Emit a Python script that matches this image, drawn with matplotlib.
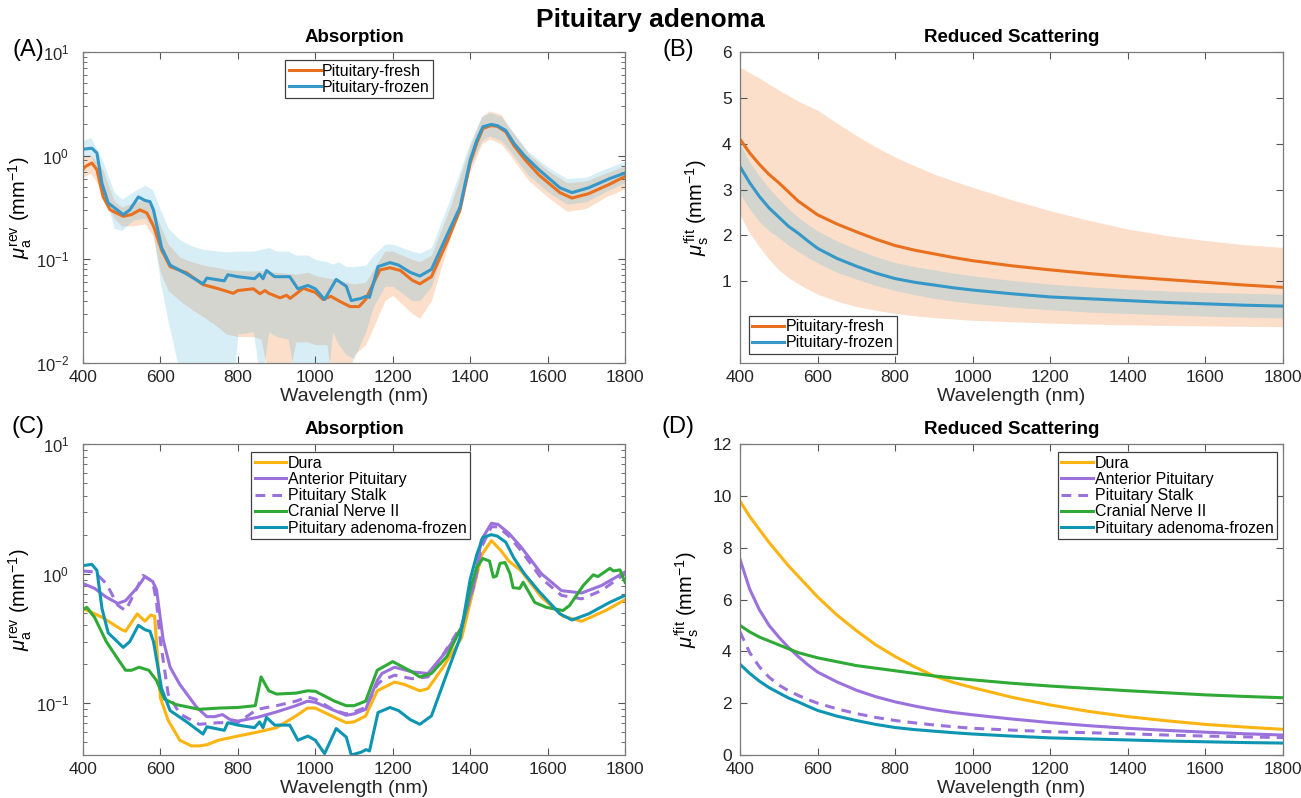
import matplotlib
matplotlib.use("Agg")
import matplotlib.pyplot as plt
import numpy as np

plt.rcParams['font.family'] = ['Liberation Sans', 'DejaVu Sans']
plt.rcParams['mathtext.fontset'] = 'custom'
plt.rcParams['mathtext.rm'] = 'Liberation Sans'
plt.rcParams['mathtext.it'] = 'Liberation Sans:italic'
plt.rcParams['mathtext.bf'] = 'Liberation Sans:bold'
plt.rcParams['axes.unicode_minus'] = False

# ---------------- Panel A data (absorption, log scale) ----------------
wl_fresh = [400, 405, 423, 436, 452, 470, 504, 525, 547, 565, 582, 603, 625, 668, 710, 750, 788, 800, 840,
            857, 870, 880, 909, 926, 935, 969, 1000, 1020, 1040, 1065, 1090, 1113, 1130, 1167, 1193, 1220,
            1250, 1270, 1300, 1343, 1374, 1400, 1417, 1433, 1454, 1470, 1492, 1513, 1540, 1578, 1632, 1663,
            1706, 1760, 1800]
mua_fresh = [0.74, 0.78, 0.85, 0.73, 0.40, 0.30, 0.26, 0.27, 0.30, 0.28, 0.21, 0.123, 0.085, 0.074, 0.057,
             0.052, 0.047, 0.05, 0.052, 0.0466, 0.05, 0.047, 0.0425, 0.045, 0.042, 0.0525, 0.048, 0.041,
             0.044, 0.039, 0.035, 0.035, 0.041, 0.079, 0.083, 0.078, 0.063, 0.058, 0.068, 0.155, 0.30,
             0.85, 1.32, 1.83, 1.95, 1.92, 1.7, 1.25, 0.93, 0.65, 0.44, 0.39, 0.43, 0.53, 0.63]

wl_frozen = [400, 405, 423, 436, 449, 465, 504, 521, 543, 560, 573, 582, 603, 625, 668, 710, 720, 765, 774,
             800, 843, 856, 865, 874, 895, 934, 955, 981, 1000, 1024, 1054, 1080, 1093, 1118, 1131, 1140,
             1162, 1193, 1215, 1245, 1270, 1300, 1343, 1374, 1400, 1417, 1433, 1454, 1470, 1492, 1513,
             1540, 1578, 1632, 1663, 1706, 1760, 1800]
mua_frozen = [1.15, 1.16, 1.18, 1.06, 0.54, 0.35, 0.27, 0.30, 0.40, 0.37, 0.36, 0.30, 0.13, 0.088, 0.072,
              0.058, 0.066, 0.062, 0.071, 0.068, 0.065, 0.072, 0.065, 0.078, 0.068, 0.068, 0.052, 0.056,
              0.052, 0.041, 0.064, 0.055, 0.040, 0.042, 0.044, 0.043, 0.085, 0.093, 0.088, 0.075, 0.069,
              0.08, 0.18, 0.32, 0.9, 1.4, 1.9, 2.0, 1.95, 1.75, 1.32, 1.0, 0.73, 0.49, 0.44, 0.49, 0.6, 0.68]

wl_band = [400, 420, 450, 480, 500, 530, 560, 580, 600, 620, 650, 680, 710, 750, 770, 800, 840, 860, 880,
           900, 930, 950, 980, 1000, 1030, 1045, 1060, 1080, 1100, 1130, 1150, 1180, 1200, 1250, 1270, 1300,
           1350, 1400, 1430, 1450, 1480, 1500, 1550, 1600, 1650, 1700, 1750, 1800]
fresh_lo = [0.62, 0.68, 0.45, 0.25, 0.21, 0.21, 0.22, 0.17, 0.075, 0.05, 0.04, 0.033, 0.028, 0.022, 0.019,
            0.018, 0.018, 0.017, 0.007, 0.007, 0.007, 0.016, 0.016, 0.015, 0.015, 0.006, 0.006, 0.006, 0.012,
            0.015, 0.022, 0.04, 0.045, 0.03, 0.027, 0.04, 0.17, 0.7, 1.3, 1.45, 1.3, 1.05, 0.58, 0.40, 0.29,
            0.31, 0.40, 0.48]
fresh_hi = [0.95, 1.02, 0.75, 0.37, 0.32, 0.35, 0.38, 0.32, 0.21, 0.14, 0.105, 0.095, 0.088, 0.083, 0.08,
            0.078, 0.077, 0.078, 0.076, 0.075, 0.073, 0.072, 0.075, 0.07, 0.066, 0.065, 0.064, 0.06, 0.058,
            0.06, 0.08, 0.12, 0.12, 0.10, 0.095, 0.11, 0.33, 1.25, 2.4, 2.7, 2.5, 1.9, 1.05, 0.72, 0.55,
            0.57, 0.68, 0.8]
frozen_lo = [0.95, 1.0, 0.55, 0.20, 0.19, 0.24, 0.25, 0.2, 0.06, 0.025, 0.008, 0.002, 0.001, 0.001, 0.001,
             0.019, 0.02, 0.006, 0.02, 0.018, 0.017, 0.006, 0.006, 0.006, 0.006, 0.02, 0.015, 0.012, 0.011,
             0.02, 0.035, 0.055, 0.055, 0.04, 0.04, 0.055, 0.2, 0.78, 1.4, 1.55, 1.4, 1.15, 0.65, 0.45, 0.34,
             0.36, 0.45, 0.55]
frozen_hi = [1.4, 1.5, 0.9, 0.45, 0.38, 0.45, 0.52, 0.47, 0.3, 0.2, 0.155, 0.135, 0.125, 0.12, 0.118, 0.12,
             0.12, 0.125, 0.13, 0.12, 0.12, 0.11, 0.11, 0.10, 0.095, 0.09, 0.095, 0.085, 0.085, 0.088, 0.11,
             0.14, 0.14, 0.12, 0.115, 0.13, 0.4, 1.35, 2.4, 2.6, 2.4, 1.9, 1.1, 0.78, 0.6, 0.62, 0.75, 0.88]

# ---------------- Panel B data (reduced scattering) ----------------
wl_scat = [400, 425, 450, 475, 500, 525, 550, 575, 600, 650, 700, 750, 800, 850, 900, 950, 1000,
           1100, 1200, 1300, 1400, 1500, 1600, 1700, 1800]
mus_fresh = [4.1, 3.8, 3.55, 3.33, 3.15, 2.95, 2.75, 2.6, 2.45, 2.25, 2.08, 1.92, 1.78, 1.68, 1.6, 1.52,
             1.45, 1.34, 1.25, 1.17, 1.1, 1.04, 0.98, 0.92, 0.87]
mus_fresh_hi = [5.67, 5.55, 5.43, 5.3, 5.17, 5.05, 4.93, 4.83, 4.73, 4.45, 4.18, 3.93, 3.71, 3.52, 3.34,
                3.19, 3.05, 2.78, 2.54, 2.33, 2.14, 2.0, 1.89, 1.8, 1.74]
mus_fresh_lo = [2.45, 2.05, 1.75, 1.48, 1.25, 1.08, 0.95, 0.83, 0.72, 0.57, 0.45, 0.37, 0.3, 0.25, 0.21,
                0.18, 0.15, 0.12, 0.09, 0.07, 0.05, 0.04, 0.03, 0.02, 0.01]
mus_frozen = [3.5, 3.15, 2.85, 2.6, 2.4, 2.2, 2.05, 1.88, 1.72, 1.5, 1.33, 1.18, 1.06, 0.98, 0.92, 0.86,
              0.81, 0.73, 0.66, 0.62, 0.58, 0.54, 0.51, 0.48, 0.46]
mus_frozen_hi = [4.0, 3.6, 3.3, 3.03, 2.8, 2.58, 2.4, 2.24, 2.1, 1.88, 1.7, 1.54, 1.41, 1.32, 1.25, 1.18,
                 1.12, 1.02, 0.94, 0.88, 0.83, 0.79, 0.76, 0.74, 0.72]
mus_frozen_lo = [2.9, 2.58, 2.3, 2.1, 1.95, 1.79, 1.65, 1.52, 1.4, 1.2, 1.05, 0.91, 0.8, 0.71, 0.63, 0.57,
                 0.52, 0.44, 0.38, 0.33, 0.3, 0.27, 0.24, 0.22, 0.2]

# ---------------- Panel C data (absorption by tissue) ----------------
wl_dura = [400, 450, 500, 510, 540, 560, 575, 585, 600, 620, 650, 680, 700, 720, 750, 800, 850, 900, 950,
           980, 1000, 1050, 1080, 1100, 1130, 1160, 1205, 1230, 1270, 1291, 1330, 1378, 1412, 1430, 1455,
           1480, 1500, 1532, 1584, 1640, 1688, 1750, 1800]
mua_dura = [0.54, 0.46, 0.37, 0.36, 0.49, 0.43, 0.48, 0.47, 0.11, 0.074, 0.052, 0.047, 0.047, 0.048, 0.052,
            0.056, 0.06, 0.065, 0.08, 0.092, 0.092, 0.078, 0.071, 0.072, 0.08, 0.125, 0.146, 0.14, 0.125,
            0.13, 0.19, 0.32, 0.84, 1.4, 1.8, 1.5, 1.25, 1.05, 0.66, 0.47, 0.43, 0.52, 0.63]

wl_ant = [400, 430, 460, 490, 510, 540, 560, 580, 590, 607, 625, 650, 694, 720, 740, 760, 780, 800, 850,
          900, 950, 980, 1000, 1050, 1080, 1100, 1130, 1160, 1172, 1205, 1250, 1291, 1335, 1378, 1412, 1429,
          1455, 1472, 1500, 1532, 1584, 1636, 1688, 1739, 1800]
mua_ant = [0.84, 0.77, 0.66, 0.59, 0.62, 0.78, 0.95, 0.87, 0.75, 0.31, 0.19, 0.14, 0.093, 0.079, 0.079,
           0.082, 0.075, 0.073, 0.078, 0.086, 0.096, 0.104, 0.102, 0.088, 0.081, 0.083, 0.09, 0.15, 0.17,
           0.19, 0.175, 0.17, 0.245, 0.385, 0.89, 1.82, 2.45, 2.4, 2.05, 1.6, 1.0, 0.74, 0.71, 0.81, 1.03]

wl_stalk = [400, 430, 460, 490, 510, 540, 555, 580, 590, 600, 620, 650, 700, 750, 800, 850, 900, 950, 980,
            1000, 1050, 1080, 1100, 1130, 1160, 1172, 1205, 1250, 1291, 1335, 1378, 1412, 1429, 1455, 1472,
            1500, 1532, 1584, 1636, 1688, 1739, 1800]
mua_stalk = [1.05, 1.03, 0.84, 0.57, 0.52, 0.78, 0.97, 0.87, 0.6, 0.30, 0.118, 0.083, 0.069, 0.071, 0.071,
             0.09, 0.096, 0.104, 0.112, 0.108, 0.088, 0.083, 0.086, 0.093, 0.14, 0.15, 0.165, 0.155, 0.16,
             0.25, 0.40, 0.85, 1.6, 2.3, 2.3, 1.95, 1.5, 0.92, 0.68, 0.64, 0.74, 1.0]

wl_cn = [400, 410, 430, 460, 490, 510, 525, 545, 570, 590, 610, 640, 700, 750, 800, 845, 860, 880, 900, 950,
         980, 1000, 1050, 1080, 1100, 1130, 1160, 1200, 1250, 1270, 1300, 1340, 1380, 1400, 1417, 1433, 1450,
         1460, 1468, 1477, 1490, 1503, 1511, 1528, 1537, 1567, 1597, 1640, 1657, 1692, 1718, 1730, 1761,
         1770, 1787, 1800]
mua_cn = [0.53, 0.55, 0.46, 0.30, 0.22, 0.18, 0.18, 0.19, 0.18, 0.15, 0.108, 0.098, 0.09, 0.092, 0.093,
          0.096, 0.16, 0.125, 0.118, 0.12, 0.125, 0.124, 0.104, 0.096, 0.096, 0.104, 0.18, 0.21, 0.175, 0.16,
          0.17, 0.23, 0.40, 0.75, 1.12, 1.31, 1.25, 0.94, 0.96, 1.2, 1.22, 1.0, 0.78, 0.77, 0.86, 0.6, 0.55,
          0.52, 0.57, 0.81, 0.98, 0.95, 1.1, 1.05, 1.07, 0.86]

# ---------------- Panel D data (scattering by tissue) ----------------
mus_dura = [9.8, 9.2, 8.7, 8.2, 7.75, 7.3, 6.9, 6.5, 6.1, 5.4, 4.8, 4.25, 3.8, 3.4, 3.05, 2.8, 2.6,
            2.23, 1.93, 1.68, 1.48, 1.32, 1.18, 1.08, 0.99]
mus_ant = [7.55, 6.4, 5.6, 5.0, 4.55, 4.15, 3.8, 3.48, 3.2, 2.82, 2.5, 2.25, 2.05, 1.89, 1.75, 1.64, 1.55,
           1.39, 1.25, 1.13, 1.03, 0.95, 0.88, 0.82, 0.77]
mus_stalk = [4.75, 3.95, 3.4, 3.0, 2.7, 2.48, 2.3, 2.14, 2.0, 1.78, 1.6, 1.45, 1.33, 1.24, 1.16, 1.09, 1.03,
             0.96, 0.9, 0.86, 0.82, 0.77, 0.73, 0.7, 0.67]
mus_cn = [5.0, 4.75, 4.55, 4.4, 4.25, 4.1, 3.95, 3.85, 3.75, 3.6, 3.45, 3.35, 3.25, 3.15, 3.05, 2.97, 2.9,
          2.77, 2.66, 2.57, 2.48, 2.4, 2.32, 2.26, 2.21]

labels_ab = ['Pituitary-fresh', 'Pituitary-frozen']
labels_cd = ['Dura', 'Anterior Pituitary', 'Pituitary Stalk', 'Cranial Nerve II', 'Pituitary adenoma-frozen']

# ---------------- styling ----------------
c_fresh = '#E8701E'
c_frozen = '#3598C8'
c_fresh_fill = '#F08030'
c_frozen_fill = '#4CB3D9'
c_dura = '#FBB412'
c_purple = '#9B72DC'
c_green = '#30AA36'
c_teal = '#0E95B2'
LW = 2.2
DASH = (0, (3.2, 2.3))

fig = plt.figure(figsize=(13.01, 7.98), dpi=100)
W, H = 1301, 798


def add_ax(x0, x1, y0, y1):
    return fig.add_axes([x0 / W, 1 - y1 / H, (x1 - x0) / W, (y1 - y0) / H])


axA = add_ax(83, 625, 52, 363)
axB = add_ax(740, 1283, 52, 363)
axC = add_ax(83, 625, 444, 755)
axD = add_ax(740, 1283, 444, 755)

for ax in (axA, axB, axC, axD):
    ax.set_xlim(400, 1800)
    ax.set_xticks(range(400, 1801, 200))
    ax.tick_params(direction='in', top=True, right=True, labelsize=12.5, length=5, width=0.8,
                   color='#555555', labelcolor='#262626')
    ax.tick_params(which='minor', direction='in', top=True, right=True, length=3, width=0.6,
                   color='#555555')
    ax.tick_params(axis='x', pad=5)
    for s in ax.spines.values():
        s.set_color('#7a7a7a')
        s.set_linewidth(0.9)
    ax.set_xlabel('Wavelength (nm)', fontsize=14, color='#262626', labelpad=2)

leg_kw = dict(fontsize=11.5, frameon=True, fancybox=False, framealpha=1, edgecolor='#404040',
              handlelength=2.0, handletextpad=0.1, labelspacing=0.08, borderpad=0.22, borderaxespad=0)

# Panel A
axA.set_yscale('log')
axA.fill_between(wl_band, fresh_lo, fresh_hi, color=c_fresh_fill, alpha=0.25, lw=0)
axA.plot(wl_fresh, mua_fresh, color=c_fresh, lw=LW, label=labels_ab[0])
axA.fill_between(wl_band, frozen_lo, frozen_hi, color=c_frozen_fill, alpha=0.22, lw=0)
axA.plot(wl_frozen, mua_frozen, color=c_frozen, lw=LW, label=labels_ab[1])
axA.set_ylim(1e-2, 1e1)
axA.tick_params(axis='y', pad=10, labelsize=12)
axA.set_title('Absorption', fontsize=13.5, fontweight='bold', pad=7)
axA.set_ylabel(r'$\mu_\mathrm{a}^\mathrm{rev}$ (mm$^{-1}$)', fontsize=14.5, labelpad=1)
la = axA.legend(loc='upper left', bbox_to_anchor=(0.373, 0.974), **leg_kw)
la.get_frame().set_linewidth(0.9)

# Panel B
axB.fill_between(wl_scat, mus_fresh_lo, mus_fresh_hi, color=c_fresh_fill, alpha=0.25, lw=0)
axB.plot(wl_scat, mus_fresh, color=c_fresh, lw=LW, label=labels_ab[0])
axB.fill_between(wl_scat, mus_frozen_lo, mus_frozen_hi, color=c_frozen_fill, alpha=0.22, lw=0)
axB.plot(wl_scat, mus_frozen, color=c_frozen, lw=LW, label=labels_ab[1])
axB.set_ylim(-0.78, 6)
axB.set_yticks([1, 2, 3, 4, 5, 6])
axB.tick_params(axis='y', pad=6)
axB.set_title('Reduced Scattering', fontsize=13.5, fontweight='bold', pad=7)
axB.set_ylabel(r"$\mu_\mathrm{s}^{\prime\mathrm{fit}}$ (mm$^{-1}$)", fontsize=14.5, labelpad=8)
lb = axB.legend(loc='lower left', bbox_to_anchor=(0.016, 0.029), **leg_kw)
lb.get_frame().set_linewidth(0.9)

# Panel C
axC.set_yscale('log')
axC.plot(wl_dura, mua_dura, color=c_dura, lw=LW, label=labels_cd[0])
axC.plot(wl_ant, mua_ant, color=c_purple, lw=LW, label=labels_cd[1])
axC.plot(wl_stalk, mua_stalk, color=c_purple, lw=LW, ls=DASH, label=labels_cd[2])
axC.plot(wl_cn, mua_cn, color=c_green, lw=LW, label=labels_cd[3])
axC.plot(wl_frozen, mua_frozen, color=c_teal, lw=LW, label=labels_cd[4])
axC.set_ylim(0.04, 10)
axC.tick_params(axis='y', pad=10, labelsize=12)
axC.set_title('Absorption', fontsize=13.5, fontweight='bold', pad=7)
axC.set_ylabel(r'$\mu_\mathrm{a}^\mathrm{rev}$ (mm$^{-1}$)', fontsize=14.5, labelpad=1)
lc = axC.legend(loc='upper left', bbox_to_anchor=(0.31, 0.974), **leg_kw)
lc.get_frame().set_linewidth(0.9)

# Panel D
axD.plot(wl_scat, mus_dura, color=c_dura, lw=LW, label=labels_cd[0])
axD.plot(wl_scat, mus_ant, color=c_purple, lw=LW, label=labels_cd[1])
axD.plot(wl_scat, mus_stalk, color=c_purple, lw=LW, ls=DASH, label=labels_cd[2])
axD.plot(wl_scat, mus_cn, color=c_green, lw=LW, label=labels_cd[3])
axD.plot(wl_scat, mus_frozen, color=c_teal, lw=LW, label=labels_cd[4])
axD.set_ylim(0, 12)
axD.set_yticks(range(0, 13, 2))
axD.tick_params(axis='y', pad=6)
axD.set_title('Reduced Scattering', fontsize=13.5, fontweight='bold', pad=7)
axD.set_ylabel(r"$\mu_\mathrm{s}^{\prime\mathrm{fit}}$ (mm$^{-1}$)", fontsize=14.5, labelpad=8)
ld = axD.legend(loc='upper right', bbox_to_anchor=(0.989, 0.974), **leg_kw)
ld.get_frame().set_linewidth(0.9)

fig.text(0.5, 1 - 20 / H, 'Pituitary adenoma', ha='center', va='center', fontsize=19, fontweight='bold')
for lab, (px, py) in zip(['(A)', '(B)', '(C)', '(D)'], [(28, 50), (678, 50), (28, 427), (678, 427)]):
    fig.text(px / W, 1 - py / H, lab, ha='center', va='center', fontsize=17)

fig.savefig('out.png', dpi=100)
